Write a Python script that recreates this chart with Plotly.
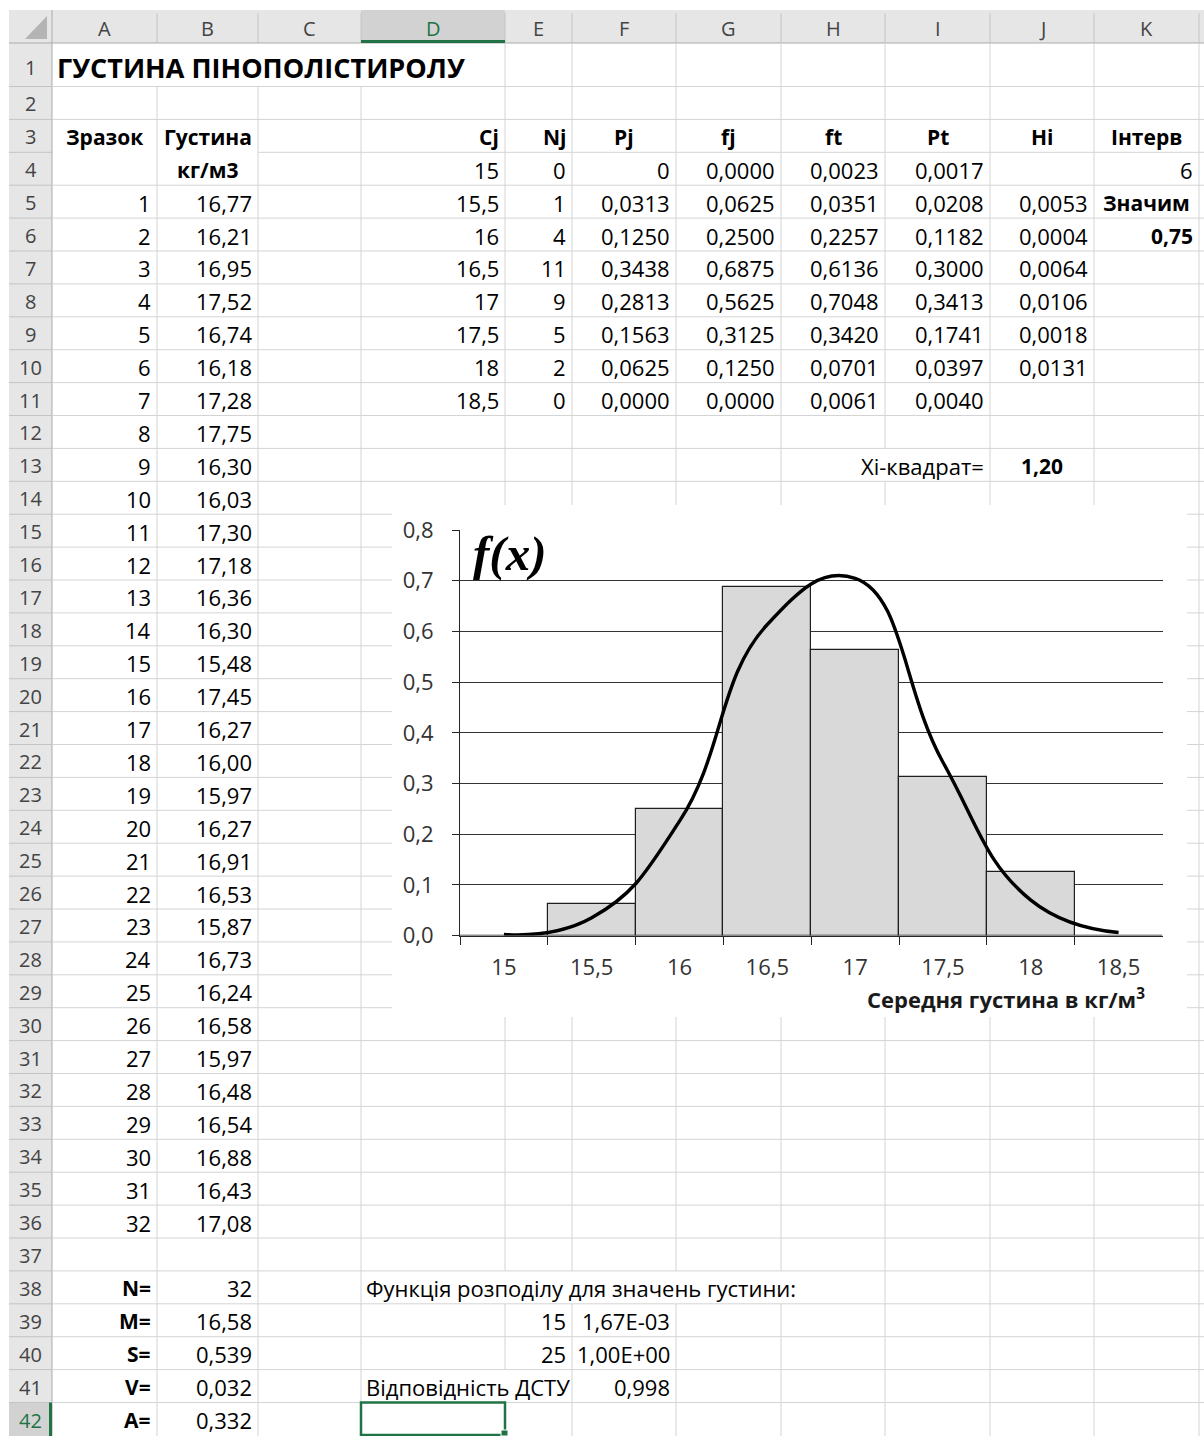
import plotly.graph_objects as go

# ---------------- data ----------------
title = "ГУСТИНА ПІНОПОЛІСТИРОЛУ"
sample_no = list(range(1, 33))
density = [16.77, 16.21, 16.95, 17.52, 16.74, 16.18, 17.28, 17.75, 16.30, 16.03,
           17.30, 17.18, 16.36, 16.30, 15.48, 17.45, 16.27, 16.00, 15.97, 16.27,
           16.91, 16.53, 15.87, 16.73, 16.24, 16.58, 15.97, 16.48, 16.54, 16.88,
           16.43, 17.08]

cj = [15, 15.5, 16, 16.5, 17, 17.5, 18, 18.5]
nj = [0, 1, 4, 11, 9, 5, 2, 0]
pj = [0, 0.0313, 0.1250, 0.3438, 0.2813, 0.1563, 0.0625, 0.0000]
fj = [0.0000, 0.0625, 0.2500, 0.6875, 0.5625, 0.3125, 0.1250, 0.0000]
ft = [0.0023, 0.0351, 0.2257, 0.6136, 0.7048, 0.3420, 0.0701, 0.0061]
pt = [0.0017, 0.0208, 0.1182, 0.3000, 0.3413, 0.1741, 0.0397, 0.0040]
hi = [None, 0.0053, 0.0004, 0.0064, 0.0106, 0.0018, 0.0131, None]

table_heads = ["Cj", "Nj", "Pj", "fj", "ft", "Pt", "Hi", "Інтерв"]
intervals = 6
significance = 0.75
chi_square = 1.20

stat_names = ["N=", "M=", "S=", "V=", "A="]
stat_values = [32, 16.58, 0.539, 0.032, 0.332]
stat_digits = [0, 2, 3, 3, 3]

cdf_x = [15, 25]
cdf_val = [1.67e-03, 1.00e+00]
conformity = 0.998

y_ticks_max = 0.8
x_title = "Середня густина в кг/м<sup>3</sup>"

# ---------------- geometry of the sheet ----------------
W, H = 1204, 1436
FONT = "Open Sans"
FS = 22
GREEN = "#217346"


def px(x):
    return x / W


def py(y):
    return 1 - y / H


COL_EDGES = [52, 157, 258, 361, 505, 572, 676, 781, 885, 990, 1094, 1199]
COL_NAMES = list("ABCDEFGHIJK")
HEAD_TOP, HEAD_BOT = 10, 43
ROWHDR_L = 9
ROW_H = 32.9
N_ROWS = 42


def row_top(r):
    return HEAD_BOT if r == 1 else 86.5 + (r - 2) * ROW_H


def row_bot(r):
    return row_top(r + 1) if r < N_ROWS else H


def row_text_y(r):
    # text sits near the bottom of the taller first row
    return (row_top(r) + row_bot(r)) / 2 + (3 if r == 1 else 1)


def dec(v, d):
    return f"{v:.{d}f}".replace(".", ",")


def gen(v):
    return f"{v:g}".replace(".", ",")


def sci(v):
    return f"{v:.2E}".replace(".", ",")


shapes = []
anns = []


def line(x0, y0, x1, y1, color, width=1):
    shapes.append(dict(type="line", xref="paper", yref="paper", layer="below",
                       x0=px(x0), y0=py(y0), x1=px(x1), y1=py(y1),
                       line=dict(color=color, width=width)))


def rect(x0, y0, x1, y1, fill, lc=None, lw=0, layer="below"):
    shapes.append(dict(type="rect", xref="paper", yref="paper", layer=layer,
                       x0=px(x0), y0=py(y0), x1=px(x1), y1=py(y1),
                       fillcolor=fill,
                       line=dict(color=lc or fill, width=lw)))


def text(x, y, s, xa="center", size=FS, color="#000", family=FONT):
    anns.append(dict(x=px(x), y=py(y), xref="paper", yref="paper", text=s,
                     xanchor=xa, yanchor="middle", showarrow=False,
                     font=dict(family=family, size=size, color=color)))


def cell(col, row, s, align="right", bold=False, size=FS, color="#000"):
    ci = COL_NAMES.index(col)
    l, r = COL_EDGES[ci], COL_EDGES[ci + 1]
    if align == "right":
        x, xa = r - 4, "right"
    elif align == "left":
        x, xa = l + 3, "left"
    else:
        x, xa = (l + r) / 2, "center"
    text(x, row_text_y(row), f"<b>{s}</b>" if bold else s, xa, size, color)


# headers
rect(ROWHDR_L, HEAD_TOP, W, HEAD_BOT, "#e6e6e6")
rect(ROWHDR_L, HEAD_BOT, COL_EDGES[0], H, "#e6e6e6")
rect(COL_EDGES[3], HEAD_TOP, COL_EDGES[4], HEAD_BOT, "#d2d2d2")
rect(ROWHDR_L, row_top(42), COL_EDGES[0], H, "#d2d2d2")
for e in COL_EDGES[1:]:
    line(e, HEAD_TOP + 3, e, HEAD_BOT, "#c4c4c4")
for r in range(1, N_ROWS):
    line(ROWHDR_L, row_bot(r), COL_EDGES[0], row_bot(r), "#c4c4c4")
line(ROWHDR_L, HEAD_BOT, W, HEAD_BOT, "#ababab")
line(COL_EDGES[0], HEAD_TOP, COL_EDGES[0], H, "#ababab")
line(COL_EDGES[3], HEAD_BOT - 1.5, COL_EDGES[4], HEAD_BOT - 1.5, GREEN, 3)
line(COL_EDGES[0] - 1.5, row_top(42), COL_EDGES[0] - 1.5, H, GREEN, 3)
shapes.append(dict(type="path", xref="paper", yref="paper", layer="below",
                   path=f"M {px(47)},{py(16)} L {px(47)},{py(39)} L {px(25)},{py(39)} Z",
                   fillcolor="#b4b4b4", line=dict(width=0)))

for i, name in enumerate(COL_NAMES):
    clr = GREEN if name == "D" else "#444"
    text((COL_EDGES[i] + COL_EDGES[i + 1]) / 2, 28.5, name, size=20, color=clr)
for r in range(1, N_ROWS + 1):
    clr = GREEN if r == 42 else "#444"
    text((ROWHDR_L + COL_EDGES[0]) / 2, row_text_y(r), str(r), size=20, color=clr)

# sheet gridlines (hidden where text overflows or cells are merged)
GRID = "#d4d4d4"
hidden = {(1, 1), (2, 1), (3, 1), (8, 13), (4, 38), (5, 38), (6, 38), (7, 38), (4, 41)}
for ei in range(1, len(COL_EDGES)):
    e = COL_EDGES[ei]
    start = None
    for r in range(1, N_ROWS + 2):
        visible = r <= N_ROWS and (ei, r) not in hidden
        if visible and start is None:
            start = row_top(r)
        if not visible and start is not None:
            line(e, start, e, row_top(r) if r <= N_ROWS else H, GRID)
            start = None
for r in range(1, N_ROWS):
    x0 = COL_EDGES[2] if r == 3 else COL_EDGES[0]
    line(x0, row_bot(r), W, row_bot(r), GRID)

# chart area background over the sheet
rect(392, 505, 1187, 1017, "#ffffff")

# selected cell
rect(COL_EDGES[3], row_top(42), COL_EDGES[4], H - 1, "rgba(0,0,0,0)", GREEN, 2.5, layer="above")
rect(COL_EDGES[4] - 4, H - 6, COL_EDGES[4] + 3, H, GREEN, "#ffffff", 1, layer="above")

# ---------------- cell contents ----------------
cell("A", 1, title, align="left", bold=True, size=27)
cell("A", 3, "Зразок", align="center", bold=True, size=21)
cell("B", 3, "Густина", align="center", bold=True, size=21)
cell("B", 4, "кг/м3", align="center", bold=True, size=21)
for n, d in zip(sample_no, density):
    cell("A", 4 + n, str(n))
    cell("B", 4 + n, dec(d, 2))

for col, head in zip("DEFGHIJK", table_heads):
    cell(col, 3, head, align="right" if col in "DE" else "center", bold=True, size=21)
for i in range(len(cj)):
    r = 4 + i
    cell("D", r, gen(cj[i]))
    cell("E", r, str(nj[i]))
    cell("F", r, gen(pj[i]) if i == 0 else dec(pj[i], 4))
    cell("G", r, dec(fj[i], 4))
    cell("H", r, dec(ft[i], 4))
    cell("I", r, dec(pt[i], 4))
    if hi[i] is not None:
        cell("J", r, dec(hi[i], 4))
cell("K", 4, str(intervals))
cell("K", 5, "Значим", align="center", bold=True, size=21)
cell("K", 6, dec(significance, 2), bold=True, size=21)
cell("I", 13, "Хі-квадрат=")
cell("J", 13, dec(chi_square, 2), align="center", bold=True, size=21)

for k, (nm, v, d) in enumerate(zip(stat_names, stat_values, stat_digits)):
    cell("A", 38 + k, nm, bold=True, size=21)
    cell("B", 38 + k, dec(v, d))
cell("D", 38, "Функція розподілу для значень густини:", align="left")
for k, (xv, fv) in enumerate(zip(cdf_x, cdf_val)):
    cell("E", 39 + k, str(xv))
    cell("F", 39 + k, sci(fv))
cell("D", 41, "Відповідність ДСТУ", align="left")
cell("F", 41, dec(conformity, 3))

# ---------------- histogram with fitted density ----------------
cats = [gen(c) for c in cj]
fig = go.Figure()
fig.add_trace(go.Bar(x=cats, y=fj, width=1,
                     marker=dict(color="#d9d9d9", line=dict(color="#1e1e1e", width=1.2)),
                     hoverinfo="skip"))
fig.add_trace(go.Scatter(x=cats, y=ft, mode="lines",
                         line=dict(color="#000000", width=3.4, shape="spline", smoothing=1.3),
                         hoverinfo="skip"))

PL, PR, PT, PB = 460, 1162.5, 530, 935.6
AX = "#262626"
fig.update_xaxes(type="category", domain=[px(PL), px(PR)], range=[-0.5, len(cj) - 0.5],
                 tickson="boundaries", ticks="outside", ticklen=8, tickcolor=AX,
                 showline=True, linecolor=AX, linewidth=1, showgrid=False,
                 tickfont=dict(family=FONT, size=FS, color="#333"),
                 ticklabelstandoff=12, fixedrange=True, automargin=False)
fig.update_yaxes(domain=[py(PB), py(PT)], range=[0, y_ticks_max], dtick=0.1,
                 tickformat=".1f", showgrid=True, gridcolor="#333333", gridwidth=1,
                 showline=True, linecolor=AX, linewidth=1, zeroline=False,
                 ticks="outside", ticklen=7, tickcolor=AX,
                 tickfont=dict(family=FONT, size=FS, color="#333"),
                 ticklabelstandoff=14, fixedrange=True, automargin=False)

text(471, 554, "<b><i>f(x)</i></b>", xa="left", size=49, family="Liberation Serif")
text(1147, 998, f"<b>{x_title}</b>", xa="right", size=FS, color="#1a1a1a")

fig.update_layout(width=W, height=H,
                  margin=dict(l=0, r=0, t=0, b=0, pad=0, autoexpand=False),
                  paper_bgcolor="#ffffff", plot_bgcolor="rgba(0,0,0,0)",
                  showlegend=False, bargap=0, separators=", ",
                  shapes=shapes, annotations=anns)

fig.write_html("out.html", config={"displayModeBar": False})
